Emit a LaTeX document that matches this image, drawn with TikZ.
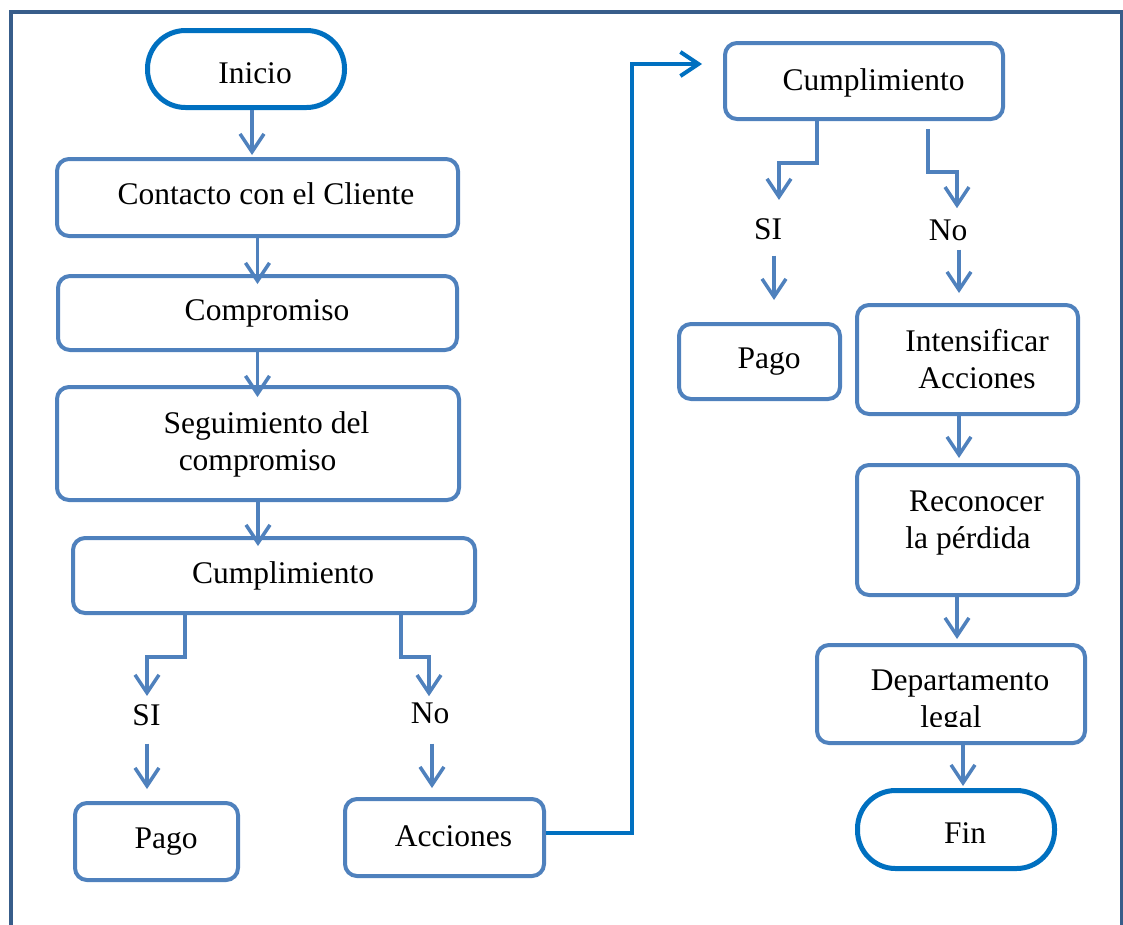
\documentclass[tikz,border=0pt]{standalone}
\usepackage{fontspec}
\setmainfont{Liberation Serif}
\usetikzlibrary{arrows.meta,calc}
\definecolor{boxblue}{HTML}{4F81BD}
\definecolor{termblue}{HTML}{0070C0}
\definecolor{framecol}{HTML}{385D8A}
\tikzset{
 box/.style={draw=boxblue, line width=4pt, rounded corners=12pt, inner sep=0pt},
 term/.style={draw=termblue, line width=5pt, rounded corners=38pt, inner sep=0pt},
 lbl/.style={font=\fontsize{31.5}{37}\selectfont, inner sep=0pt, anchor=base},
 mlbl/.style={font=\fontsize{31.5}{37}\selectfont, inner sep=0pt, align=center},
 arr/.style={draw=boxblue, line width=3.5pt, -{Straight Barb[length=18pt,width=24pt]}},
 arrt/.style={draw=termblue, line width=4pt, -{Straight Barb[length=18pt,width=24pt]}},
}
\begin{document}
\begin{tikzpicture}[x=1pt,y=-1pt]
\useasboundingbox (0,0) rectangle (1123,924);
\draw[framecol, line width=4pt] (11,940) -- (11,12) -- (1121.5,12) -- (1121.5,940);

% boxes
\node[term, minimum width=197pt, minimum height=77pt] (inicio) at (246,69) {};
\node[box, minimum width=401pt, minimum height=77pt] (contacto) at (257.5,197.5) {};
\node[box, minimum width=399pt, minimum height=74pt] (compromiso) at (257.5,313) {};
\node[box, minimum width=402pt, minimum height=113pt] (seguimiento) at (258,443.5) {};
\node[box, minimum width=402pt, minimum height=75pt] (cumpl1) at (274,575.5) {};
\node[box, minimum width=163pt, minimum height=77pt] (pago1) at (156.5,841.5) {};
\node[box, minimum width=199pt, minimum height=77pt] (acciones) at (444.5,837.5) {};
\node[box, minimum width=278pt, minimum height=76pt] (cumpl2) at (864,81) {};
\node[box, minimum width=161pt, minimum height=75pt] (pago2) at (759.5,361.5) {};
\node[box, minimum width=221pt, minimum height=109pt] (intens) at (967.5,359.5) {};
\node[box, minimum width=221pt, minimum height=130pt] (reconocer) at (967.5,530) {};
\node[box, minimum width=268pt, minimum height=98pt] (depto) at (951,694) {};
\node[term, minimum width=197pt, minimum height=78pt] (fin) at (956,829.5) {};

% texts
\node[lbl] (tinicio) at (255,83) {Inicio};
\node[lbl] (tcontacto) at (266,204) {Contacto con el Cliente};
\node[lbl] (tcompromiso) at (267,320) {Compromiso};
\node[mlbl] (tseguimiento) at (266.5,444) {Seguimiento del\\compromiso\hspace*{18pt}};
\node[lbl] (tcumpl1) at (283,583) {Cumplimiento};
\node[lbl] (si1) at (146.5,725) {SI};
\node[lbl] (no1) at (430,723) {No};
\node[lbl] (tpago1) at (166,848) {Pago};
\node[lbl] (tacciones) at (453.5,846) {Acciones};
\node[lbl] (tcumpl2) at (873.5,90) {Cumplimiento};
\node[lbl] (si2) at (768,239) {SI};
\node[lbl] (no2) at (948,240) {No};
\node[lbl] (tpago2) at (769,368) {Pago};
\node[mlbl] (tintens) at (977,359.5) {Intensificar\\Acciones};
\node[mlbl] (treconocer) at (976.5,523.5) {Reconocer\\la pérdida\hspace*{17pt}};
\begin{scope}
\clip (820,650) rectangle (1080,726);
\node[mlbl] (tdepto) at (960,702) {Departamento\\legal\hspace*{18pt}};
\end{scope}
\node[lbl] (tfin) at (965,843) {Fin};

% connectors
\draw[arr] ($(inicio.south)+(6,0)$) -- ($(contacto.north -| inicio.south)+(6,-2)$);
\draw[arr] (contacto.south) -- ($(compromiso.north)+(0,10)$);
\draw[arr] (compromiso.south) -- ($(seguimiento.north -| compromiso.south)+(0,12)$);
\draw[arr] (seguimiento.south) -- ($(cumpl1.north -| seguimiento.south)+(0,10)$);

\draw[arr] ($(cumpl1.south)+(-89,0)$) -- ++(0,42) -| ($(si1.north)+(0.5,-8)$);
\draw[arr] ($(si1.south)+(0.5,18)$) -- ($(pago1.north -| si1.south)+(0.5,-12)$);
\draw[arr] ($(cumpl1.south)+(127,0)$) -- ++(0,42) -| ($(no1.north)+(-1,-6)$);
\draw[arr] ($(no1.south)+(2,20)$) -- ($(acciones.north -| no1.south)+(2,-9)$);

\draw[arrt] ($(acciones.east)+(0,-4.5)$) -- ++(86,0) |- ($(cumpl2.west)+(-21,-17)$);

\draw[arr] ($(cumpl2.south)+(-47,0)$) -- ++(0,42) -| ($(si2.north)+(11,-18)$);
\draw[arr] ($(si2.south)+(6,16)$) -- ($(pago2.north -| si2.south)+(6,-22)$);
\draw[arr] ($(cumpl2.south)+(64,8)$) -- ++(0,43) -| ($(no2.north)+(9,-11)$);
\draw[arr] ($(no2.south)+(11,9)$) -- ($(intens.north -| no2.south)+(11,-10)$);

\draw[arr] ($(intens.south)+(-8.5,0)$) -- ($(reconocer.north -| intens.south)+(-8.5,-5)$);
\draw[arr] ($(reconocer.south)+(-10.5,0)$) -- ($(depto.north -| reconocer.south)+(-10.5,-4)$);
\draw[arr] ($(depto.south)+(12,0)$) -- ($(fin.north -| depto.south)+(12,-2)$);
\end{tikzpicture}
\end{document}
